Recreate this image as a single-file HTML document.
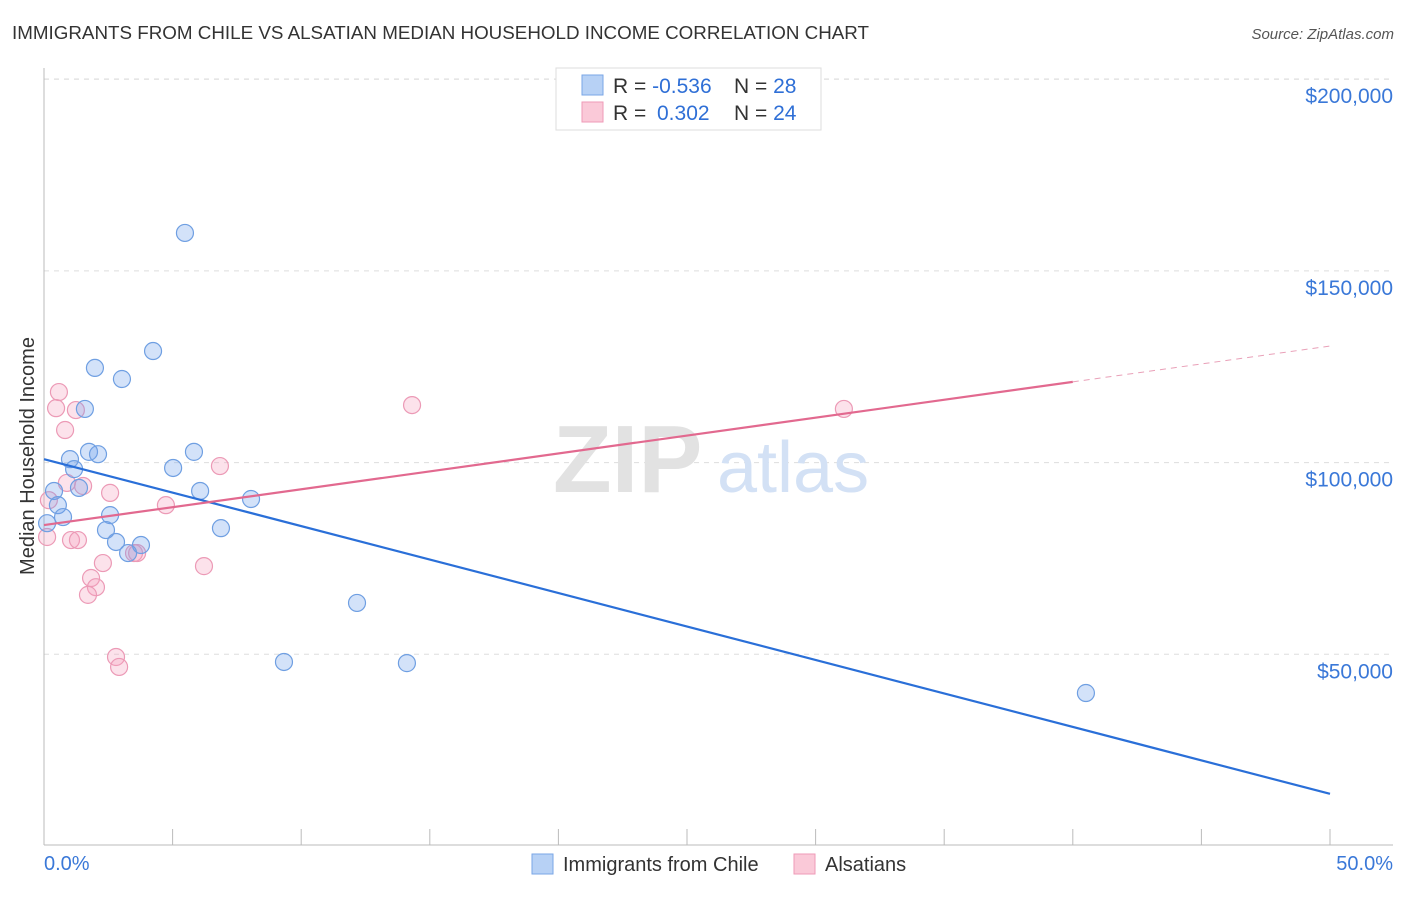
<!DOCTYPE html>
<html><head><meta charset="utf-8"><style>
body{margin:0;background:#fff;font-family:"Liberation Sans",sans-serif;}
svg text{font-family:"Liberation Sans",sans-serif;}
</style></head><body>
<svg id="chart" width="1406" height="892">
<text x="12" y="39" font-size="18" fill="#333" textLength="857" lengthAdjust="spacingAndGlyphs">IMMIGRANTS FROM CHILE VS ALSATIAN MEDIAN HOUSEHOLD INCOME CORRELATION CHART</text>
<text x="1394" y="39" font-size="15" fill="#555" font-style="italic" text-anchor="end">Source: ZipAtlas.com</text>
<text x="34" y="456" font-size="20" fill="#333" text-anchor="middle" transform="rotate(-90 34 456)">Median Household Income</text>
<g id="grid"></g>
<text x="553" y="492" font-size="96" font-family="Liberation Serif" fill="#e2e2e2" font-weight="bold">ZIP</text>
<text x="717" y="492" font-size="72" fill="#d3e1f5">atlas</text>
<g id="axes"></g>
<g id="pts"></g>
<g id="lines"></g>
<g>
<rect x="556" y="68" width="265" height="62" fill="#fff" stroke="#ddd"/>
<rect x="582" y="75" width="21" height="20" fill="#b7d1f5" stroke="#7aa6e6"/>
<rect x="582" y="102" width="21" height="20" fill="#fac9d8" stroke="#ef9ab7"/>
<text x="613" y="93" font-size="21" fill="#333">R = <tspan fill="#2f6fd6">-0.536</tspan></text>
<text x="734" y="93" font-size="21" fill="#333">N = <tspan fill="#2f6fd6">28</tspan></text>
<text x="613" y="120" font-size="21" fill="#333">R = <tspan fill="#2f6fd6" x="657">0.302</tspan></text>
<text x="734" y="120" font-size="21" fill="#333">N = <tspan fill="#2f6fd6">24</tspan></text>
</g>
<g>
<rect x="532" y="854" width="21" height="20" fill="#b7d1f5" stroke="#7aa6e6"/>
<text x="563" y="871" font-size="20" fill="#333">Immigrants from Chile</text>
<rect x="794" y="854" width="21" height="20" fill="#fac9d8" stroke="#ef9ab7"/>
<text x="825" y="871" font-size="20" fill="#333">Alsatians</text>
</g>
</svg>
<script>
const yTicks=[50000,100000,150000,200000];
const yTickLabels=["$50,000","$100,000","$150,000","$200,000"];
const xTicks=[0,5,10,15,20,25,30,35,40,45,50];
const chileX=[5.48,4.24,1.98,3.03,1.59,1.75,2.10,1.01,5.83,5.02,1.17,0.39,1.36,6.07,8.05,0.54,2.57,0.74,0.12,2.41,6.88,2.80,3.77,3.27,12.17,9.33,14.11,40.51];
const chileY=[159.9,129.1,124.7,121.8,114.0,102.8,102.2,100.9,102.8,98.6,98.3,92.6,93.4,92.6,90.5,88.9,86.3,85.8,84.2,82.4,82.9,79.3,78.5,76.4,63.4,48.0,47.7,39.9];
const alsX=[0.58,0.47,1.24,0.82,0.89,1.52,2.57,4.74,6.84,14.31,31.10,1.05,1.32,0.12,0.19,2.29,1.83,2.02,1.71,6.22,2.80,2.92,3.50,3.62];
const alsY=[118.4,114.2,113.7,108.5,94.7,93.9,92.1,88.9,99.1,115.0,114.0,79.8,79.8,80.6,90.2,73.8,69.9,67.5,65.5,73.0,49.3,46.7,76.4,76.4];
const chileTrend=[100.9,13.6];
const alsTrend=[83.7,130.4];
const alsSolidEnd=40;
const NS="http://www.w3.org/2000/svg";
const X=v=>44+v/50*1286;
const Y=v=>846-v/50000*191.7;
function mk(p,t,a){const e=document.createElementNS(NS,t);for(const k in a)e.setAttribute(k,a[k]);document.getElementById(p).appendChild(e);return e;}
yTicks.forEach((t,i)=>{
 const l=mk('grid','line',{x1:44,x2:1393,y1:Y(t),y2:Y(t),stroke:'#ddd','stroke-dasharray':'5,5'});
 
 
 const tx=mk('grid','text',{x:1393,y:Y(t)+24,'font-size':21,fill:'#3a78d8','text-anchor':'end'});
 tx.textContent=yTickLabels[i];
 
 
});
const tg=mk('grid','line',{x1:44,x2:1393,y1:79,y2:79,stroke:'#ddd','stroke-dasharray':'5,5'});


const ya=mk('axes','line',{x1:44,x2:44,y1:68,y2:845,stroke:'#bbb'});


const xa=mk('axes','line',{x1:44,x2:1393,y1:845,y2:845,stroke:'#bbb'});


xTicks.forEach(t=>{
 const l=mk('axes','line',{x1:X(t),x2:X(t),y1:829,y2:845,stroke:'#bbb'});
 
 
});
const xl0=mk('axes','text',{x:44,y:870,'font-size':20,fill:'#3a78d8'});
xl0.textContent=xTicks[0].toFixed(1)+'%';


const xl1=mk('axes','text',{x:1393,y:870,'font-size':20,fill:'#3a78d8','text-anchor':'end'});
xl1.textContent=xTicks[xTicks.length-1].toFixed(1)+'%';


alsX.forEach((x,i)=>{
 const c=mk('pts','circle',{cx:X(x),cy:Y(alsY[i]*1000),r:8.5,fill:'rgba(245,160,190,0.3)',stroke:'#ec9ab6','stroke-width':1.2});
 
 
});
chileX.forEach((x,i)=>{
 const c=mk('pts','circle',{cx:X(x),cy:Y(chileY[i]*1000),r:8.5,fill:'rgba(110,160,235,0.3)',stroke:'#6f9fe2','stroke-width':1.2});
 
 
});
const bl=mk('lines','line',{x1:X(0),y1:Y(chileTrend[0]*1000),x2:X(50),y2:Y(chileTrend[1]*1000),stroke:'#2a6fd8','stroke-width':2.2});


const ym=alsTrend[0]+(alsTrend[1]-alsTrend[0])*alsSolidEnd/50;
const pl=mk('lines','line',{x1:X(0),y1:Y(alsTrend[0]*1000),x2:X(alsSolidEnd),y2:Y(ym*1000),stroke:'#e2698f','stroke-width':2.2});


const pd=mk('lines','line',{x1:X(alsSolidEnd),y1:Y(ym*1000),x2:X(50),y2:Y(alsTrend[1]*1000),stroke:'#e9a0b8','stroke-width':1,'stroke-dasharray':'6,5'});


</script>
</body></html>
